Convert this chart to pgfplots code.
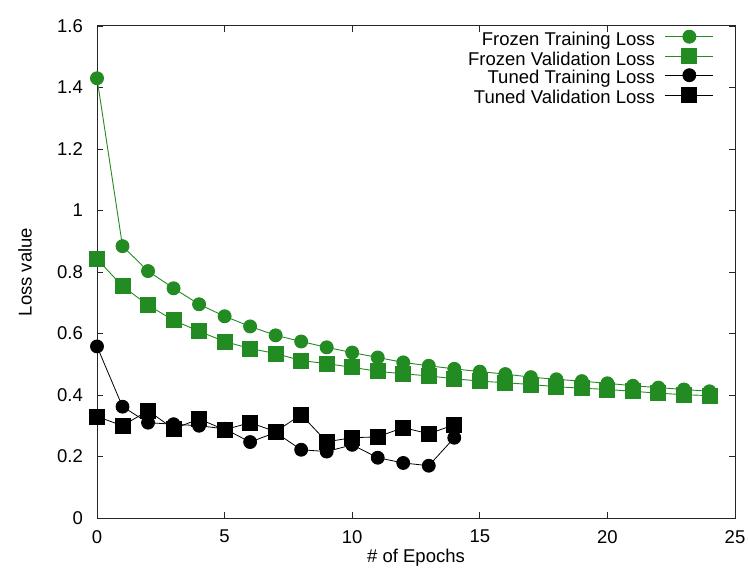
\documentclass[border=0pt]{standalone}
\usepackage{pgfplots}
\pgfplotsset{compat=1.18}
\usepackage{fontspec}
\setmainfont{Liberation Sans}
\definecolor{fgreen}{RGB}{34,139,34}
\newcommand{\cf}{\fontsize{18.5}{21}\selectfont}
\begin{document}
\begin{tikzpicture}
\begin{axis}[
  name=ax,
  scale only axis,
  width=638pt, height=492pt,
  xmin=0, xmax=25, ymin=0, ymax=1.6,
  xtick={0,5,10,15,20,25},
  ytick={0,0.2,0.4,0.6,0.8,1,1.2,1.4,1.6},
  minor tick num=0,
  xtick pos=both, ytick pos=both,
  tick align=inside,
  major tick length=6pt,
  axis line style={line width=1pt, black!85},
  every tick/.style={black!85, line width=0.8pt},
  /pgf/number format/assume math mode=true,
  tick label style={font=\cf, black},
  yticklabel style={inner sep=0pt, xshift=-14pt},
  xticklabel style={inner sep=0pt, yshift=-12pt},
  yticklabel style={/pgf/number format/fixed},
  clip=false,
  xlabel={\# of Epochs},
  ylabel={Loss value},
  every axis x label/.style={at={(axis description cs:0.5,0)}, anchor=center, yshift=-40pt, font=\cf},
  every axis y label/.style={at={(axis description cs:0,0.5)}, anchor=center, xshift=-72pt, rotate=90, font=\cf},
  legend cell align=right,
  legend plot pos=right,
  legend image code/.code={\draw[mark repeat=2,mark phase=2,yshift=4.5pt] plot coordinates {(0pt,0pt)(24pt,0pt)(48pt,0pt)};},
  legend style={at={(1,1)}, anchor=north east, xshift=-21pt, yshift=-4pt, draw=none, fill=none, font=\cf,
     inner sep=0pt, row sep=0pt, column sep=10pt,
     nodes={inner sep=0pt, text height=12pt, text depth=3.5pt}},
]
\addplot[fgreen, line width=0.9pt, mark=*, mark size=6.5pt, mark options={fill=fgreen, draw=fgreen}] coordinates {
(0,1.43)(1,0.884)(2,0.803)(3,0.747)(4,0.695)(5,0.656)(6,0.623)(7,0.594)(8,0.574)(9,0.555)
(10,0.538)(11,0.522)(12,0.506)(13,0.495)(14,0.485)(15,0.476)(16,0.468)(17,0.458)(18,0.451)(19,0.445)
(20,0.438)(21,0.430)(22,0.424)(23,0.418)(24,0.412)};
\addlegendentry{Frozen Training Loss}
\addplot[fgreen, line width=0.9pt, mark=square*, mark size=7.5pt, mark options={fill=fgreen, draw=fgreen}] coordinates {
(0,0.842)(1,0.754)(2,0.692)(3,0.643)(4,0.607)(5,0.574)(6,0.551)(7,0.535)(8,0.512)(9,0.502)
(10,0.490)(11,0.477)(12,0.469)(13,0.462)(14,0.453)(15,0.445)(16,0.440)(17,0.434)(18,0.427)(19,0.422)
(20,0.418)(21,0.412)(22,0.406)(23,0.401)(24,0.398)};
\addlegendentry{Frozen Validation Loss}
\addplot[black, line width=0.8pt, mark=*, mark size=6.5pt, mark options={fill=black, draw=black}] coordinates {
(0,0.558)(1,0.362)(2,0.310)(3,0.305)(4,0.300)(5,0.290)(6,0.247)(7,0.278)(8,0.222)(9,0.216)
(10,0.238)(11,0.196)(12,0.179)(13,0.170)(14,0.261)};
\addlegendentry{Tuned Training Loss}
\addplot[black, line width=0.8pt, mark=square*, mark size=7.5pt, mark options={fill=black, draw=black}] coordinates {
(0,0.330)(1,0.300)(2,0.349)(3,0.290)(4,0.322)(5,0.287)(6,0.310)(7,0.281)(8,0.336)(9,0.248)
(10,0.261)(11,0.264)(12,0.294)(13,0.274)(14,0.303)};
\addlegendentry{Tuned Validation Loss}
\end{axis}
\pgfresetboundingbox
\path ([shift={(-97pt,-54pt)}]ax.south west) rectangle ([shift={(13pt,26pt)}]ax.north east);
\end{tikzpicture}
\end{document}
